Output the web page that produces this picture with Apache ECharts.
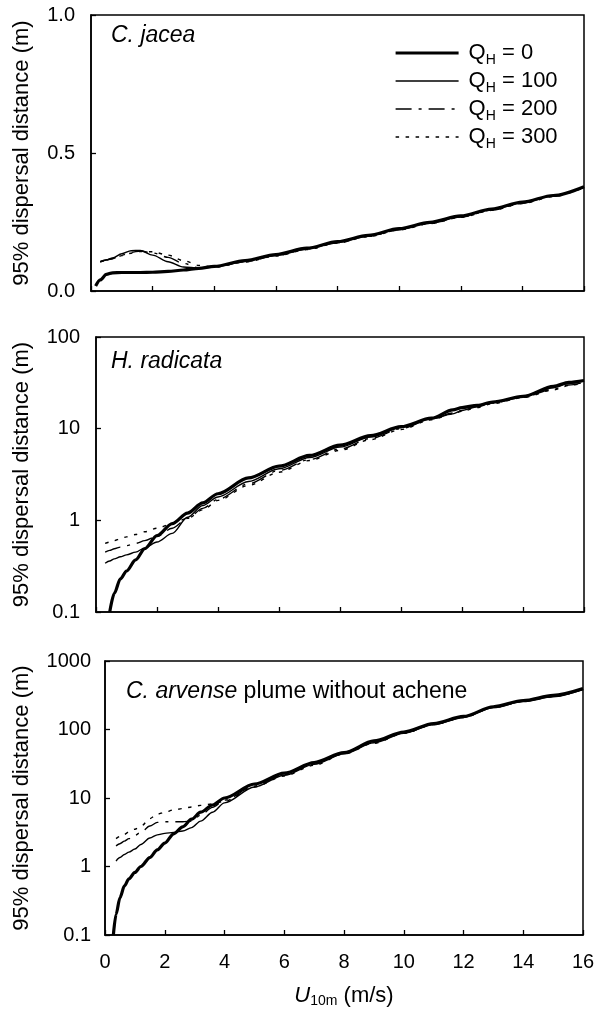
<!DOCTYPE html>
<html>
<head>
<meta charset="utf-8">
<script src="https://cdn.jsdelivr.net/npm/echarts@6/dist/echarts.min.js"></script>
<style>
html, body { margin: 0; padding: 0; background: #fff; }
#chart { width: 595px; height: 1010px; }
</style>
</head>
<body>
<div id="chart"></div>
<script>
const qhValues = ["0", "100", "200", "300"];
const windTicks = [0, 2, 4, 6, 8, 10, 12, 14, 16];

// C. jacea (linear axis)
const xJacea = [0.15, 0.3, 0.5, 0.7, 1.0, 1.3, 1.6, 2.0, 2.5, 3.0, 3.5, 4, 5, 6, 7, 8, 9, 10, 11, 12, 13, 14, 15, 16];
const jacea0 = [0.018, 0.04, 0.060, 0.066, 0.067, 0.067, 0.067, 0.068, 0.071, 0.076, 0.082, 0.089, 0.11, 0.132, 0.155, 0.179, 0.202, 0.226, 0.249, 0.272, 0.297, 0.322, 0.346, 0.378];
const jacea100 = [null, 0.106, 0.113, 0.12, 0.135, 0.146, 0.147, 0.130, 0.106, 0.087, 0.083, 0.088, 0.108, 0.130, 0.153, 0.177, 0.200, 0.224, 0.247, 0.270, 0.295, 0.320, 0.344, 0.377];
const jacea200 = [null, 0.106, 0.112, 0.118, 0.130, 0.140, 0.145, 0.138, 0.122, 0.100, 0.084, 0.086, 0.106, 0.128, 0.151, 0.175, 0.198, 0.222, 0.245, 0.268, 0.293, 0.318, 0.343, 0.376];
const jacea300 = [null, 0.106, 0.110, 0.117, 0.128, 0.137, 0.143, 0.142, 0.130, 0.110, 0.093, 0.087, 0.105, 0.127, 0.150, 0.174, 0.197, 0.221, 0.244, 0.267, 0.292, 0.317, 0.342, 0.375];

// H. radicata (log axis)
const xRadicata = [0.3, 0.45, 0.6, 0.8, 1.0, 1.3, 1.6, 2.0, 2.5, 3, 3.5, 4, 5, 6, 7, 8, 9, 10, 11, 11.7, 12, 12.5, 13, 14, 15, 15.5, 16];
const radicata0 = [null, 0.1, 0.16, 0.23, 0.28, 0.37, 0.49, 0.68, 0.92, 1.2, 1.55, 1.95, 2.9, 3.9, 5.1, 6.6, 8.4, 10.5, 13, 16, 17, 18, 19.5, 22.5, 29, 32, 33.5];
const radicata100 = [0.34, 0.36, 0.38, 0.40, 0.42, 0.45, 0.50, 0.58, 0.72, 1.08, 1.45, 1.8, 2.65, 3.65, 4.85, 6.3, 8.1, 10.3, 12.8, 14.5, 15.8, 17.5, 19.3, 22.5, 28, 31, 33];
const radicata200 = [0.45, 0.47, 0.49, 0.51, 0.53, 0.56, 0.60, 0.67, 0.82, 1.05, 1.35, 1.7, 2.5, 3.5, 4.6, 6.0, 7.8, 10, 12.7, 14.8, 15.8, 17.3, 19, 22, 27, 30, 32];
const radicata300 = [0.56, 0.58, 0.60, 0.63, 0.66, 0.70, 0.75, 0.82, 0.92, 1.05, 1.3, 1.65, 2.4, 3.35, 4.5, 5.8, 7.6, 9.8, 12.5, 14.5, 15.5, 17, 18.8, 21.8, 26.5, 29.5, 31.5];

// C. arvense plume without achene (log axis)
const xArvense = [0.28, 0.37, 0.5, 0.65, 0.8, 1.0, 1.2, 1.5, 1.75, 2.0, 2.3, 2.6, 2.9, 3.2, 3.6, 4, 5, 6, 7, 8, 9, 10, 11, 12, 13, 14, 15, 16];
const arvense0 = [0.1, 0.2, 0.35, 0.52, 0.66, 0.82, 1.0, 1.35, 1.75, 2.2, 3.0, 3.8, 4.9, 6.2, 7.9, 10, 16, 23, 33, 46, 68, 92, 122, 155, 215, 265, 315, 395];
const arvense100 = [null, 1.2, 1.35, 1.5, 1.62, 1.8, 2.1, 2.6, 2.9, 3.05, 3.15, 3.3, 3.7, 4.6, 6.2, 8.5, 14.5, 21.5, 31, 44, 64, 88, 118, 150, 210, 255, 300, 385];
const arvense200 = [null, 2.0, 2.15, 2.35, 2.55, 2.85, 3.15, 3.9, 4.4, 4.5, 4.5, 4.5, 4.6, 5.6, 7.3, 9.3, 15, 22, 32, 45, 66, 90, 120, 152, 212, 260, 305, 390];
const arvense300 = [null, 2.55, 2.75, 2.95, 3.2, 3.5, 3.85, 5.0, 5.8, 6.2, 6.7, 7.0, 7.4, 7.8, 8.2, 9.0, 14.5, 21, 30, 44, 63, 88, 118, 150, 210, 258, 302, 388];

const FONT = "Liberation Sans";
const lineStyles = [
  { width: 3.2, type: "solid" },
  { width: 1.4, type: "solid" },
  { width: 1.4, type: [16, 7, 3, 7] },
  { width: 1.4, type: [3.5, 6.5] },
];

const pairs = (xs, ys) => xs.map((x, i) => [x, ys[i]]).filter((p) => p[1] != null);

const panels = [
  { xs: xJacea, ys: [jacea0, jacea100, jacea200, jacea300] },
  { xs: xRadicata, ys: [radicata0, radicata100, radicata200, radicata300] },
  { xs: xArvense, ys: [arvense0, arvense100, arvense200, arvense300] },
];

const grids = [
  { left: 91, right: 11, top: 15, height: 276 },
  { left: 96, right: 11, top: 337, height: 275 },
  { left: 105, right: 12, top: 661, height: 274 },
].map((g) => ({ ...g, show: true, borderColor: "#000", borderWidth: 1.5, outerBoundsMode: "none" }));

const tick = { show: true, inside: true, length: 5, lineStyle: { color: "#000", width: 1.3 } };
const axisLine = { show: true, lineStyle: { color: "#000", width: 1.5 } };
const yName = "95% dispersal distance (m)";
const yNameStyle = { fontFamily: FONT, fontSize: 22, color: "#000" };
const labelStyle = { fontFamily: FONT, fontSize: 20, color: "#000" };

const xAxes = [0, 1, 2].map((i) => ({
  type: "value",
  gridIndex: i,
  min: windTicks[0],
  max: windTicks[windTicks.length - 1],
  interval: 2,
  axisLine,
  axisTick: tick,
  splitLine: { show: false },
  axisLabel: { show: i === 2, ...labelStyle, margin: 17 },
  name: i === 2 ? "{i|U}{sub|10m} (m/s)" : "",
  nameLocation: "middle",
  nameGap: 49,
  nameTextStyle: {
    fontFamily: FONT, fontSize: 22, color: "#000", lineHeight: 24,
    rich: {
      i: { fontFamily: FONT, fontSize: 22, fontStyle: "italic", lineHeight: 24 },
      sub: { fontFamily: FONT, fontSize: 14, lineHeight: 24, verticalAlign: "bottom" },
    },
  },
}));

const logLabel = (v) => String(+v.toPrecision(3));

const yAxes = [
  {
    type: "value", gridIndex: 0, min: 0, max: 1, interval: 0.5,
    axisLabel: { ...labelStyle, margin: 16, formatter: (v) => v.toFixed(1) },
    nameGap: 58,
  },
  {
    type: "log", gridIndex: 1, logBase: 10, min: 0.1, max: 100,
    axisLabel: { ...labelStyle, margin: 16, formatter: logLabel },
    nameGap: 63,
  },
  {
    type: "log", gridIndex: 2, logBase: 10, min: 0.1, max: 1000,
    axisLabel: { ...labelStyle, margin: 14, formatter: logLabel },
    nameGap: 72,
  },
].map((a) => ({
  ...a,
  axisLine,
  axisTick: tick,
  minorTick: { show: false },
  splitLine: { show: false },
  name: yName,
  nameLocation: "middle",
  nameTextStyle: yNameStyle,
}));

const series = [];
panels.forEach((p, i) => {
  p.ys.forEach((ys, j) => {
    series.push({
      name: qhValues[j],
      type: "line",
      xAxisIndex: i,
      yAxisIndex: i,
      data: pairs(p.xs, ys),
      symbol: "none",
      smooth: 0.3,
      smoothMonotone: "x",
      z: j === 0 ? 5 : 3,
      lineStyle: { color: "#000", ...lineStyles[j] },
      itemStyle: { color: "#000" },
    });
  });
});

const titleStyle = { fontFamily: FONT, fontSize: 23, fontWeight: "normal", color: "#000" };
const italicRich = { i: { fontFamily: FONT, fontSize: 23, fontStyle: "italic", color: "#000" } };

const chart = echarts.init(document.getElementById("chart"), null, { renderer: "canvas" });
chart.setOption({
  animation: false,
  backgroundColor: "#fff",
  title: [
    { text: "{i|C. jacea}", left: 111, top: 24, padding: 0, textStyle: { ...titleStyle, rich: italicRich } },
    { text: "{i|H. radicata}", left: 111, top: 350, padding: 0, textStyle: { ...titleStyle, rich: italicRich } },
    { text: "{i|C. arvense} plume without achene", left: 126, top: 680, padding: 0, textStyle: { ...titleStyle, rich: italicRich } },
  ],
  legend: {
    data: qhValues.map((n, j) => ({
      name: n,
      lineStyle: { color: "#000", width: lineStyles[j].width, type: lineStyles[j].type },
    })),
    orient: "vertical",
    left: 394,
    top: 39,
    padding: 0,
    itemGap: 0,
    itemWidth: 63,
    itemHeight: 14,
    selectedMode: false,
    itemStyle: { opacity: 0 },
    lineStyle: { width: "inherit" },
    formatter: (n) => "Q{sub|H} = " + n,
    textStyle: {
      fontFamily: FONT, fontSize: 22, color: "#000", lineHeight: 28, padding: [0, 0, 0, 5],
      rich: { sub: { fontFamily: FONT, fontSize: 14, lineHeight: 28, verticalAlign: "bottom" } },
    },
  },
  grid: grids,
  xAxis: xAxes,
  yAxis: yAxes,
  series,
});
</script>
</body>
</html>
